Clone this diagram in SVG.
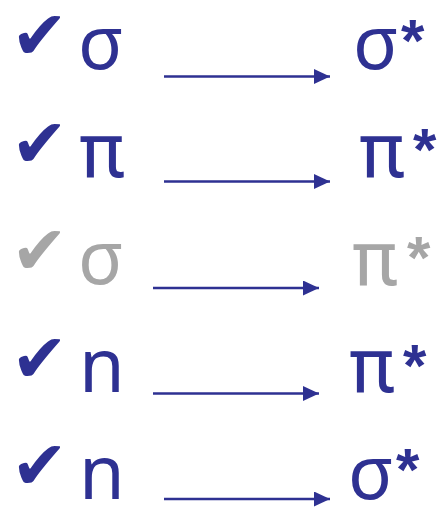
<svg xmlns="http://www.w3.org/2000/svg" width="440" height="508" viewBox="0 0 440 508">
<style>
.t{font-family:"Noto Sans","DejaVu Sans",sans-serif;font-size:74px;fill:#2E3192}
.p{font-family:Roboto,"Noto Sans",sans-serif;font-size:77px;font-weight:400;fill:#2E3192}
.s{font-family:"Liberation Sans",Arial,sans-serif;font-weight:bold;font-size:60px;fill:#2E3192}
.c{font-family:"DejaVu Sans",sans-serif;font-size:68px;fill:#2E3192}
.g{fill:#A6A6A6}
.a{stroke:#2E3192;stroke-width:2.5;fill:none;marker-end:url(#h)}
</style>
<defs>
<marker id="h" markerUnits="userSpaceOnUse" markerWidth="17" markerHeight="16" refX="16" refY="7.5" orient="auto">
<path d="M0,0 L16,7.5 L0,15 z" fill="#2E3192"/>
</marker>
</defs>
<g id="row1-from"><text class="c" x="11" y="59">✔</text><text class="t" x="78" y="69">σ</text></g>
<g id="row1-to"><text class="t" x="353" y="69">σ</text><text class="s" x="401" y="61">*</text></g>
<g id="row2-from"><text class="c" x="11" y="167">✔</text><text class="p" x="79" y="177">π</text></g>
<g id="row2-to"><text class="p" x="359" y="177">π</text><text class="s" x="413" y="170">*</text></g>
<g id="row3-from"><text class="c g" x="11" y="274">✔</text><text class="t g" x="78" y="284">σ</text></g>
<g id="row3-to"><text class="p g" x="352" y="285">π</text><text class="s g" x="407" y="278">*</text></g>
<g id="row4-from"><text class="c" x="11" y="382">✔</text><text class="t" x="79" y="392">n</text></g>
<g id="row4-to"><text class="p" x="349" y="392">π</text><text class="s" x="403" y="386">*</text></g>
<g id="row5-from"><text class="c" x="11" y="489">✔</text><text class="t" x="79" y="499">n</text></g>
<g id="row5-to"><text class="t" x="348" y="499">σ</text><text class="s" x="396" y="490">*</text></g>
<g id="connectors">
<line class="a" x1="164" y1="76.5" x2="330" y2="76.5"/>
<line class="a" x1="164" y1="181.5" x2="330" y2="181.5"/>
<line class="a" x1="153" y1="288" x2="319" y2="288"/>
<line class="a" x1="153" y1="393.5" x2="319" y2="393.5"/>
<line class="a" x1="164" y1="499" x2="330" y2="499"/>
</g>
</svg>
